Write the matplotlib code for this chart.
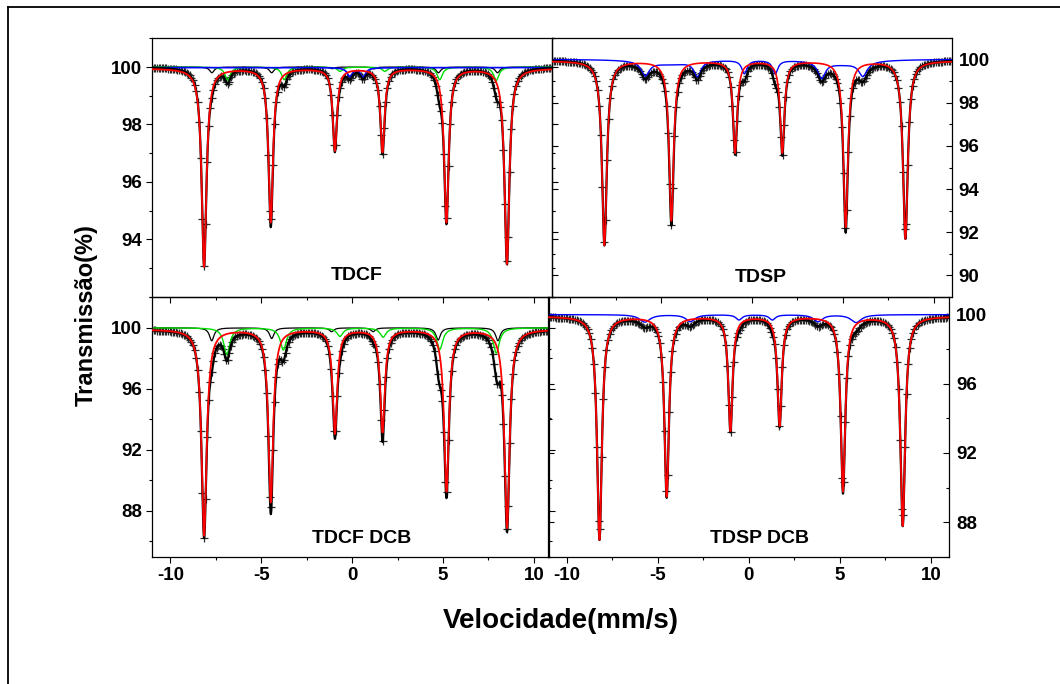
import numpy as np
import matplotlib
matplotlib.use("Agg")
import matplotlib.pyplot as plt
from matplotlib.ticker import MultipleLocator
from matplotlib.lines import Line2D

plt.rcParams['font.family'] = ['Liberation Sans', 'DejaVu Sans']
plt.rcParams['font.weight'] = 'bold'
plt.rcParams['axes.unicode_minus'] = False

# ---------------- data ----------------
# Mossbauer sub-spectra: line positions (mm/s), depths (% absorption), FWHM (mm/s)
# TDCF
TDCF_RED_POS = [-8.15, -4.48, -0.95, 1.67, 5.19, 8.52]
TDCF_RED_DEPTH = [6.9, 5.35, 2.85, 2.9, 5.35, 6.8]
TDCF_RED_FWHM = [0.32, 0.30, 0.28, 0.28, 0.30, 0.32]
TDCF_GREEN_POS = [-6.85, -3.74, -0.67, 1.80, 4.82, 7.93]
TDCF_GREEN_DEPTH = [0.46, 0.44, 0.15, 0.15, 0.44, 0.47]
TDCF_GREEN_FWHM = [0.35, 0.35, 0.35, 0.35, 0.35, 0.35]
TDCF_BLACK_POS = [-7.72, -4.43, -1.10, 1.20, 4.75, 8.00]
TDCF_BLACK_DEPTH = [0.20, 0.20, 0.06, 0.06, 0.20, 0.20]
TDCF_BLACK_FWHM = [0.30, 0.30, 0.30, 0.30, 0.30, 0.30]
TDCF_BLUE_POS = [-0.13, 0.60]
TDCF_BLUE_DEPTH = [0.30, 0.32]
TDCF_BLUE_FWHM = [0.35, 0.35]

# TDSP
TDSP_RED_POS = [-8.13, -4.44, -0.93, 1.67, 5.16, 8.45]
TDSP_RED_DEPTH = [8.55, 7.4, 4.25, 4.25, 7.7, 8.25]
TDSP_RED_FWHM = [0.32, 0.30, 0.28, 0.28, 0.30, 0.32]
TDSP_BLUE_POS = [-5.88, -3.01, -0.42, 1.28, 3.83, 6.11, -4.5, 5.0]
TDSP_BLUE_DEPTH = [0.65, 0.70, 0.62, 0.62, 0.75, 0.65, 0.22, 0.22]
TDSP_BLUE_FWHM = [0.55, 0.45, 0.35, 0.35, 0.50, 0.55, 3.0, 3.0]

# TDCF DCB
TDCFD_RED_POS = [-8.15, -4.48, -0.95, 1.67, 5.19, 8.52]
TDCFD_RED_DEPTH = [13.5, 11.3, 6.8, 6.7, 10.6, 13.0]
TDCFD_RED_FWHM = [0.34, 0.32, 0.30, 0.30, 0.32, 0.34]
TDCFD_GREEN_POS = [-6.90, -3.79, -0.68, 1.70, 4.82, 7.93]
TDCFD_GREEN_DEPTH = [1.75, 1.45, 0.55, 0.60, 1.40, 1.65]
TDCFD_GREEN_FWHM = [0.40, 0.40, 0.40, 0.40, 0.40, 0.40]
TDCFD_BLACK_POS = [-7.73, -4.43, -1.13, 1.15, 4.73, 8.02]
TDCFD_BLACK_DEPTH = [0.85, 0.70, 0.25, 0.25, 0.80, 0.85]
TDCFD_BLACK_FWHM = [0.30, 0.30, 0.30, 0.30, 0.30, 0.30]

# TDSP DCB
TDSPD_RED_POS = [-8.19, -4.50, -1.00, 1.70, 5.18, 8.46]
TDSPD_RED_DEPTH = [12.9, 10.4, 6.6, 6.3, 10.1, 12.1]
TDSPD_RED_FWHM = [0.32, 0.30, 0.28, 0.28, 0.30, 0.32]
TDSPD_BLUE_POS = [-5.70, -3.20, -0.53, 1.30, 3.81, 5.90]
TDSPD_BLUE_DEPTH = [0.43, 0.40, 0.30, 0.30, 0.40, 0.45]
TDSPD_BLUE_FWHM = [0.70, 0.60, 0.40, 0.40, 0.60, 0.70]

PANEL_LABELS = ["TDCF", "TDSP", "TDCF DCB", "TDSP DCB"]
XLABEL = "Velocidade(mm/s)"
YLABEL = "Transmissão(%)"

# ---------------- helpers ----------------
def lor(v, pos, depth, fwhm):
    out = np.zeros_like(v)
    for p, d, w in zip(pos, depth, fwhm):
        hw = w / 2.0
        out += d * hw ** 2 / ((v - p) ** 2 + hw ** 2)
    return out

vfine = np.linspace(-11.2, 11.2, 3000)
vch = np.linspace(-11.0, 11.0, 256)

W, H = 1060, 684
fig = plt.figure(figsize=(W / 100, H / 100), dpi=100)

def ax_px(x0, y0, x1, y1):
    return fig.add_axes([x0 / W, 1 - y1 / H, (x1 - x0) / W, (y1 - y0) / H])

ax_tl = ax_px(152.3, 38.3, 552.0, 296.7)
ax_tr = ax_px(552.3, 38.3, 951.7, 296.7)
ax_bl = ax_px(152.3, 297.3, 549.0, 556.7)
ax_br = ax_px(548.3, 297.3, 949.0, 556.7)

def draw(ax, comps, total_base=100.0):
    # comps: list of (color, base, pos, depth, fwhm, lw)
    tot_f = np.full_like(vfine, total_base)
    tot_c = np.full_like(vch, total_base)
    for c, base, pos, dep, fw, lw in comps:
        tot_f -= lor(vfine, pos, dep, fw)
        tot_c -= lor(vch, pos, dep, fw)
    ax.plot(vch, tot_c, ls='none', marker='+', ms=6, mew=0.9,
            color='#2a2a2a', zorder=1)
    ax.plot(vfine, tot_f, color='black', lw=1.6, zorder=3)
    for c, base, pos, dep, fw, lw in comps:
        ax.plot(vfine, base - lor(vfine, pos, dep, fw), color=c, lw=lw,
                zorder=4 if c == 'red' else 2.5)

draw(ax_tl, [
    ('black', 100.0, TDCF_BLACK_POS, TDCF_BLACK_DEPTH, TDCF_BLACK_FWHM, 0.9),
    ('#00dd00', 100.0, TDCF_GREEN_POS, TDCF_GREEN_DEPTH, TDCF_GREEN_FWHM, 1.0),
    ('blue', 99.98, TDCF_BLUE_POS, TDCF_BLUE_DEPTH, TDCF_BLUE_FWHM, 1.2),
    ('red', 99.95, TDCF_RED_POS, TDCF_RED_DEPTH, TDCF_RED_FWHM, 1.3),
])
draw(ax_tr, [
    ('blue', 100.03, TDSP_BLUE_POS, TDSP_BLUE_DEPTH, TDSP_BLUE_FWHM, 1.0),
    ('red', 99.95, TDSP_RED_POS, TDSP_RED_DEPTH, TDSP_RED_FWHM, 1.2),
])
draw(ax_bl, [
    ('black', 100.0, TDCFD_BLACK_POS, TDCFD_BLACK_DEPTH, TDCFD_BLACK_FWHM, 0.9),
    ('#00dd00', 100.0, TDCFD_GREEN_POS, TDCFD_GREEN_DEPTH, TDCFD_GREEN_FWHM, 1.0),
    ('red', 99.9, TDCFD_RED_POS, TDCFD_RED_DEPTH, TDCFD_RED_FWHM, 1.3),
], total_base=99.9)
draw(ax_br, [
    ('blue', 100.0, TDSPD_BLUE_POS, TDSPD_BLUE_DEPTH, TDSPD_BLUE_FWHM, 1.0),
    ('red', 99.9, TDSPD_RED_POS, TDSPD_RED_DEPTH, TDSPD_RED_FWHM, 1.3),
], total_base=99.9)

ax_tl.set_xlim(-11, 11); ax_tl.set_ylim(92, 101)
ax_tr.set_xlim(-11, 11); ax_tr.set_ylim(89, 101)
ax_bl.set_xlim(-11, 10.83); ax_bl.set_ylim(85, 102)
ax_br.set_xlim(-11, 11); ax_br.set_ylim(86, 101)

ax_tl.set_yticks([94, 96, 98, 100]); ax_tl.yaxis.set_minor_locator(MultipleLocator(1))
ax_tr.set_yticks([90, 92, 94, 96, 98, 100]); ax_tr.yaxis.set_minor_locator(MultipleLocator(1))
ax_bl.set_yticks([88, 92, 96, 100]); ax_bl.yaxis.set_minor_locator(MultipleLocator(2))
ax_br.set_yticks([88, 92, 96, 100]); ax_br.yaxis.set_minor_locator(MultipleLocator(2))

for ax in (ax_tl, ax_tr, ax_bl, ax_br):
    ax.set_xticks([-10, -5, 0, 5, 10])
    ax.xaxis.set_minor_locator(MultipleLocator(2.5))
    ax.tick_params(axis='x', which='major', direction='out', length=4.5, width=0.8,
                   labelsize=13.5, pad=3)
    ax.tick_params(axis='x', which='minor', direction='out', length=2.5, width=0.8)
    for s in ax.spines.values():
        s.set_linewidth(0.9)
    ax.set_facecolor('none')

for ax in (ax_tl, ax_tr):
    ax.tick_params(axis='x', labelbottom=False)

for ax in (ax_tl, ax_bl):
    ax.tick_params(axis='y', which='major', direction='out', length=4.5, width=0.8,
                   left=True, right=True, labelsize=13.5, pad=3)
    ax.tick_params(axis='y', which='minor', direction='out', length=2.5, width=0.8,
                   left=True, right=True)
for ax in (ax_tr, ax_br):
    ax.tick_params(axis='y', which='major', direction='in', length=4.5, width=0.8,
                   left=True, right=True, labelleft=False, labelright=True,
                   labelsize=13.5, pad=5)
    ax.tick_params(axis='y', which='minor', direction='in', length=2.5, width=0.8,
                   left=True, right=True)

for ax in (ax_tl, ax_tr, ax_bl, ax_br):
    for lab in ax.get_xticklabels() + ax.get_yticklabels():
        lab.set_fontweight('bold')

txt_pos = [(ax_tl, 0.512, 0.083), (ax_tr, 0.523, 0.075), (ax_bl, 0.528, 0.071), (ax_br, 0.528, 0.071)]
for (ax, x, y), lab in zip(txt_pos, PANEL_LABELS):
    ax.text(x, y, lab, transform=ax.transAxes, ha='center', va='center',
            fontsize=14, fontweight='bold')

fig.text(86 / W, 1 - 315 / H, YLABEL, rotation=90, ha='center', va='center',
         fontsize=17, fontweight='bold')
fig.text(561 / W, 1 - 621 / H, XLABEL, ha='center', va='center',
         fontsize=20, fontweight='bold')

# outer frame (top and left edges visible)
fig.add_artist(Line2D([8 / W, 1.0], [1 - 6.7 / H, 1 - 6.7 / H], transform=fig.transFigure,
                      color='black', lw=1.3))
fig.add_artist(Line2D([8 / W, 8 / W], [0.0, 1 - 6.7 / H], transform=fig.transFigure,
                      color='black', lw=1.3))

fig.savefig("out.png", dpi=100)
